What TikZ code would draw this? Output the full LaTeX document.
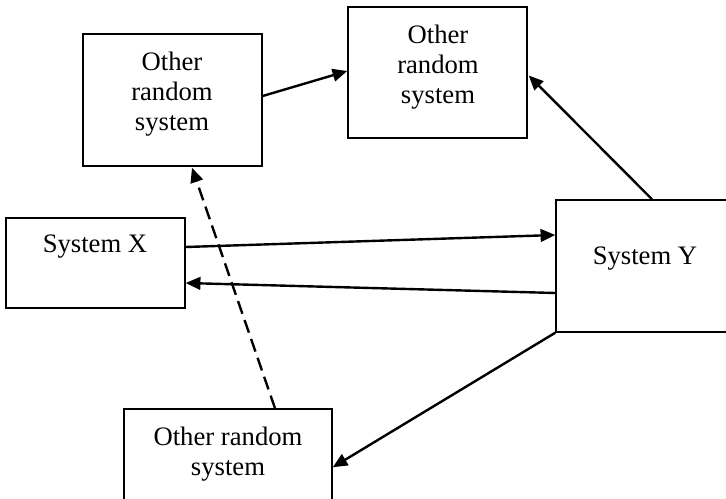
\documentclass[tikz,border=0pt]{standalone}
\usepackage{fontspec}
\setmainfont{Liberation Serif}
\usetikzlibrary{arrows.meta,calc}
\begin{document}
\begin{tikzpicture}[x=0.75pt,y=-0.75pt,
  box/.style={draw,line width=1.1pt,rectangle,inner sep=0pt},
  lbl/.style={inner sep=0pt,align=center,font=\fontsize{20pt}{22.5pt}\selectfont},
  conn/.style={line width=1.8pt,-{Triangle[length=11pt,width=9.5pt]}},
  dashconn/.style={conn,dash pattern=on 10pt off 5pt}]
\useasboundingbox (0,0) rectangle (726,499);
\node[box,minimum width=179*0.75pt,minimum height=132*0.75pt] (A) at (172.5,100) {};
\node[box,minimum width=179*0.75pt,minimum height=131*0.75pt] (B) at (437.5,72.5) {};
\node[box,minimum width=179*0.75pt,minimum height=90*0.75pt] (X) at (95.5,263) {};
\node[box,minimum width=176*0.75pt,minimum height=132*0.75pt] (Y) at (644,266) {};
\node[box,minimum width=208*0.75pt,minimum height=122*0.75pt] (C) at (228,470) {};
\node[lbl] (tA) at (172,93.8) {Other\\random\\system};
\node[lbl] (tB) at (438,66.8) {Other\\random\\system};
\node[lbl,anchor=base] (tX) at (95,253) {System X};
\node[lbl,anchor=base] (tY) at (645,265) {System Y};
\node[lbl] (tC) at (228,453.8) {Other random\\system};
\draw[conn] ($(A.east)+(0,-4)$) -- ($(B.west)+(0,-1.5)$);
\draw[conn] ($(Y.north)+(8,0)$) -- ($(B.east)+(1,3)$);
\draw[conn] ($(X.east)+(0,-16)$) -- ($(Y.west)+(0,-31)$);
\draw[conn] ($(Y.west)+(0,27)$) -- ($(X.east)+(0,20)$);
\draw[conn] (Y.south west) -- ($(C.north east)+(0,59)$);
\draw[dashconn] ($(C.north)+(47,0)$) -- ($(A.south)+(19.5,1)$);
\end{tikzpicture}
\end{document}
